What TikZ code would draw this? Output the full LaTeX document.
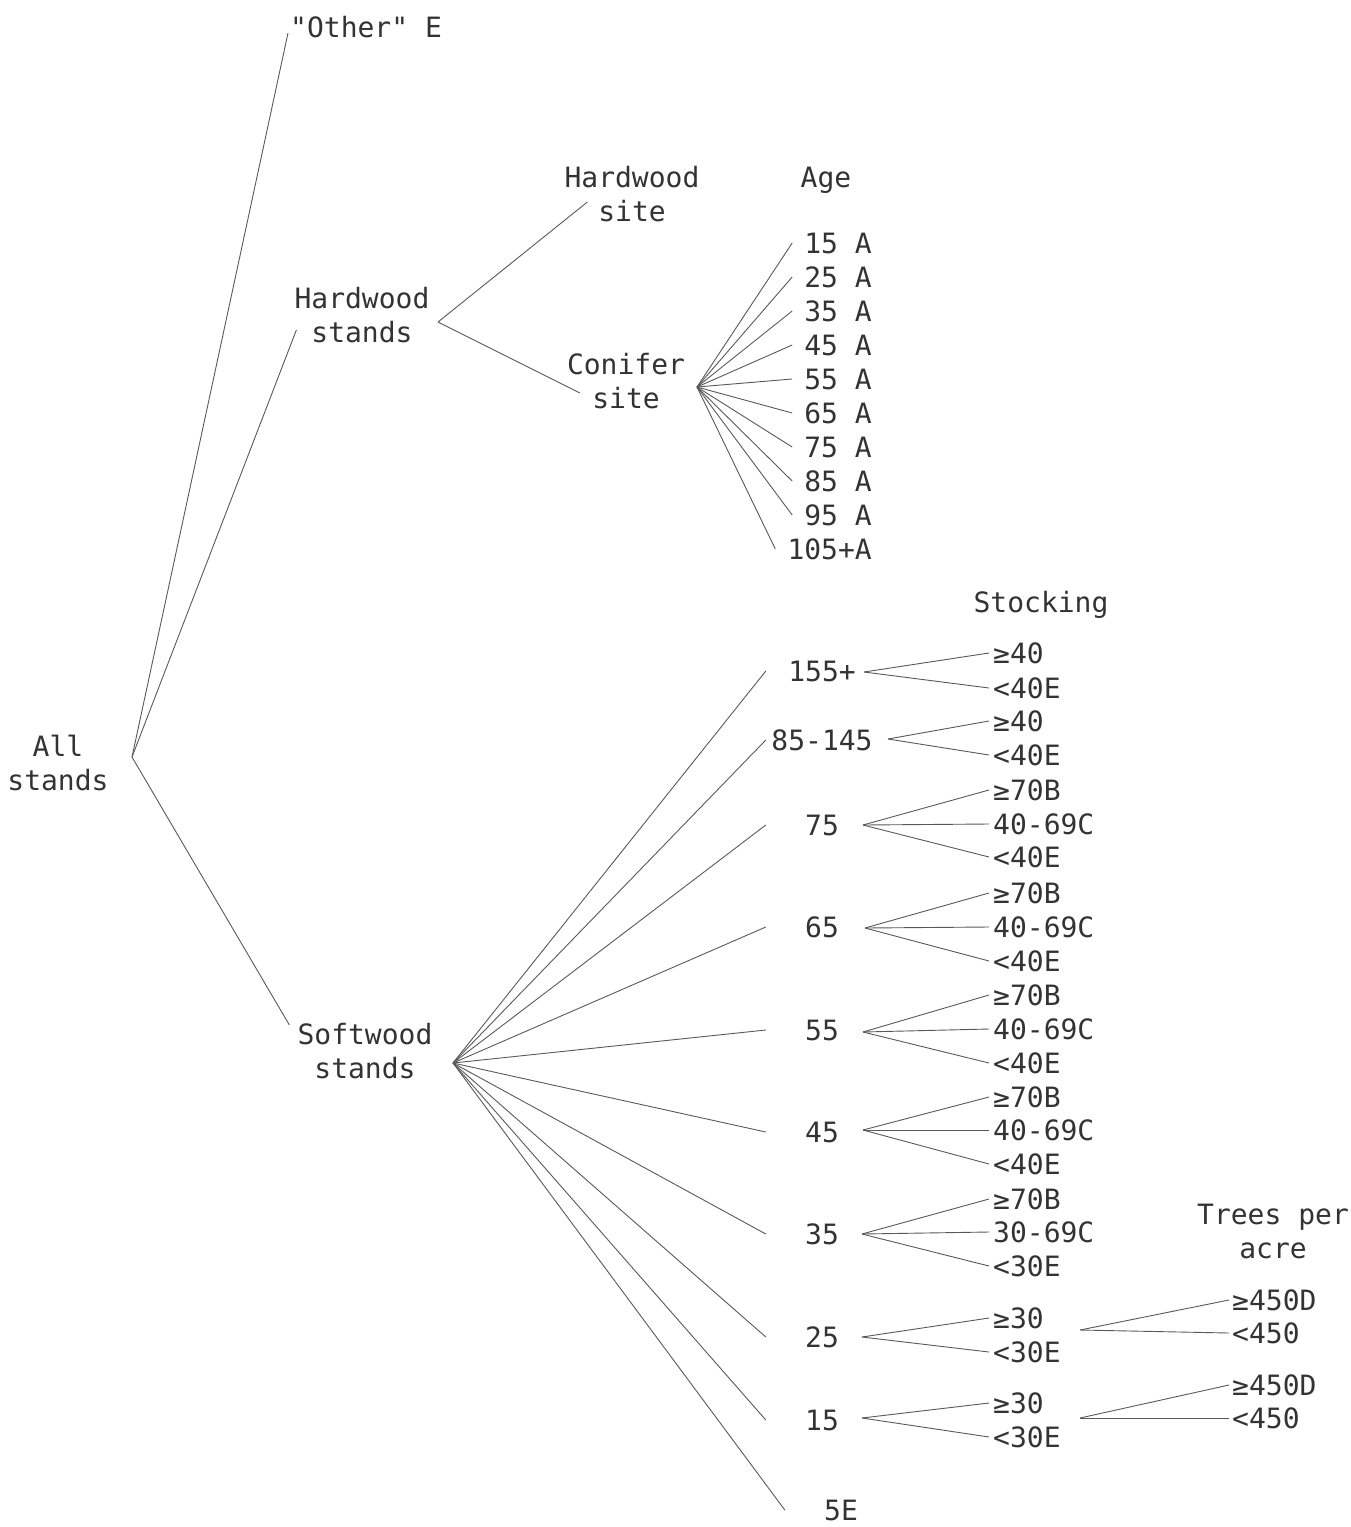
\documentclass[tikz,border=0pt]{standalone}
\usepackage{fontspec}
\setmonofont{DejaVu Sans Mono}
\begin{document}
\begin{tikzpicture}[x=1pt,y=-1pt,
  lbl/.style={inner sep=0pt, text=black!80, font=\ttfamily\fontsize{28}{34}\selectfont},
  one/.style={lbl, text height=20pt, text depth=0pt},
  ml/.style={lbl, align=center},
  agebox/.style={one, minimum width=112pt},
  ln/.style={draw=black!65, line width=0.9pt}]
\useasboundingbox (0,0) rectangle (1351,1527);

% ---- level 0 / 1
\coordinate (allj) at (132,757);
\node[ml] (all) at (58,763) {All\\stands};
\node[one,anchor=west] (other) at (290,27) {"Other" E};
\node[ml] (hs) at (362,315) {Hardwood\\stands};
\node[ml] (ss) at (365,1051) {Softwood\\stands};
\draw[ln] (allj) -- ([xshift=-2pt,yshift=-6pt]other.west);
\draw[ln] (allj) -- ([xshift=2pt,yshift=-15pt]hs.west);
\draw[ln] (allj) -- ([xshift=-8pt,yshift=26pt]ss.west);

% ---- hardwood stands
\coordinate (hsj) at (438,322);
\node[ml] (hws) at (632,194) {Hardwood\\site};
\node[ml] (cs) at (626,381) {Conifer\\site};
\draw[ln] (hsj) -- ([xshift=23pt,yshift=-8pt]hws.west);
\draw[ln] (hsj) -- ([xshift=13pt,yshift=-12pt]cs.west);

% ---- conifer site ages
\node[one] (agehdr) at (826,177) {Age};
\coordinate (csj) at (697,387);
\foreach \t [count=\i] in {15 A,25 A,35 A,45 A,55 A,65 A,75 A,85 A,95 A,105+A}{
  \node[one,anchor=east] (c\i) at (872,{243+34*(\i-1)}) {\t};
  \draw[ln] (csj) -- ([xshift=-12pt]c\i.west);
}

% ---- softwood stands ages
\coordinate (ssj) at (453,1063);
\node[agebox] (s155) at (822,671) {155+};
\node[agebox] (s85)  at (822,740) {85-145};
\node[agebox] (s75)  at (822,825) {75};
\node[agebox] (s65)  at (822,927) {65};
\node[agebox] (s55)  at (822,1030) {55};
\node[agebox] (s45)  at (822,1132) {45};
\node[agebox] (s35)  at (822,1234) {35};
\node[agebox] (s25)  at (822,1337) {25};
\node[agebox] (s15)  at (822,1420) {15};
\node[agebox] (s5)   at (841,1510) {5E};
\foreach \n in {s155,s85,s75,s65,s55,s45,s35,s25,s15,s5}
  \draw[ln] (ssj) -- (\n.west);

% ---- stocking
\node[one] (stockhdr) at (1041,602) {Stocking};

\coordinate (j155) at (864,672);
\node[one,anchor=west] (k155a) at (993,653) {≥40};
\node[one,anchor=west] (k155b) at (993,688) {<40E};
\coordinate (j85) at (888,739);
\node[one,anchor=west] (k85a) at (993,721) {≥40};
\node[one,anchor=west] (k85b) at (993,755) {<40E};
\coordinate (j75) at (863,825);
\node[one,anchor=west] (k75a) at (993,790) {≥70B};
\node[one,anchor=west] (k75b) at (993,824) {40-69C};
\node[one,anchor=west] (k75c) at (993,857) {<40E};
\coordinate (j65) at (865,928);
\node[one,anchor=west] (k65a) at (993,893) {≥70B};
\node[one,anchor=west] (k65b) at (993,927) {40-69C};
\node[one,anchor=west] (k65c) at (993,961) {<40E};
\coordinate (j55) at (863,1032);
\node[one,anchor=west] (k55a) at (993,995) {≥70B};
\node[one,anchor=west] (k55b) at (993,1029) {40-69C};
\node[one,anchor=west] (k55c) at (993,1063) {<40E};
\coordinate (j45) at (863,1130);
\node[one,anchor=west] (k45a) at (993,1097) {≥70B};
\node[one,anchor=west] (k45b) at (993,1130) {40-69C};
\node[one,anchor=west] (k45c) at (993,1164) {<40E};
\coordinate (j35) at (862,1234);
\node[one,anchor=west] (k35a) at (993,1199) {≥70B};
\node[one,anchor=west] (k35b) at (993,1232) {30-69C};
\node[one,anchor=west] (k35c) at (993,1266) {<30E};
\coordinate (j25) at (862,1337);
\node[one,anchor=west] (k25a) at (993,1318) {≥30};
\node[one,anchor=west] (k25b) at (993,1352) {<30E};
\coordinate (j15) at (862,1418);
\node[one,anchor=west] (k15a) at (993,1403) {≥30};
\node[one,anchor=west] (k15b) at (993,1437) {<30E};

\foreach \j/\k in {j155/k155a,j155/k155b,j85/k85a,j85/k85b,
  j75/k75a,j75/k75b,j75/k75c,j65/k65a,j65/k65b,j65/k65c,
  j55/k55a,j55/k55b,j55/k55c,j45/k45a,j45/k45b,j45/k45c,
  j35/k35a,j35/k35b,j35/k35c,j25/k25a,j25/k25b,j15/k15a,j15/k15b}
  \draw[ln] (\j) -- ([xshift=-4pt]\k.west);

% ---- trees per acre
\node[ml] (treehdr) at (1273,1231) {Trees per\\acre};
\coordinate (t25) at (1080,1330);
\node[one,anchor=west] (p25a) at (1232,1300) {≥450D};
\node[one,anchor=west] (p25b) at (1232,1333) {<450};
\coordinate (t15) at (1080,1418);
\node[one,anchor=west] (p15a) at (1232,1385) {≥450D};
\node[one,anchor=west] (p15b) at (1232,1418) {<450};
\foreach \j/\k in {t25/p25a,t25/p25b,t15/p15a,t15/p15b}
  \draw[ln] (\j) -- ([xshift=-3pt]\k.west);
\end{tikzpicture}
\end{document}
